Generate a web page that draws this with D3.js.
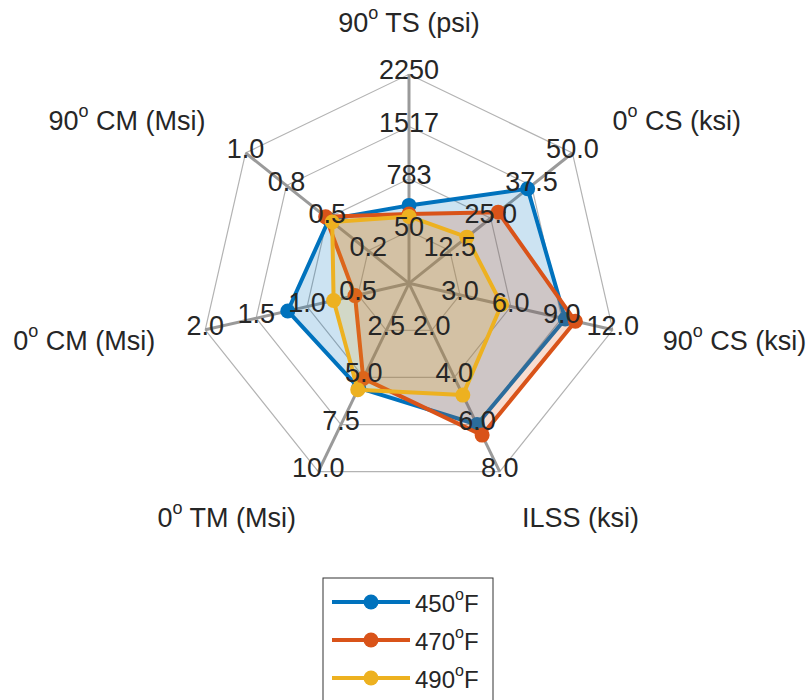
<!DOCTYPE html>
<html>
<head>
<meta charset="utf-8">
<script src="https://cdn.jsdelivr.net/npm/d3@7/dist/d3.min.js"></script>
<style>
  html, body { margin: 0; padding: 0; background: #fff; }
  svg text { font-family: "Liberation Sans", Arial, Helvetica, sans-serif; fill: #262626; }
</style>
</head>
<body>
<svg id="chart" width="809" height="700"></svg>
<script>
// Axis titles ("^o" marks a raised degree symbol)
const axisNames = ["90^o TS (psi)", "0^o CS (ksi)", "90^o CS (ksi)", "ILSS (ksi)",
                   "0^o TM (Msi)", "0^o CM (Msi)", "90^o CM (Msi)"];
// Axis limits (lowest and highest labelled ring)
const axisMin = [50, 12.5, 3, 2, 2.5, 0.5, 0.25];
const axisMax = [2250, 50, 12, 8, 10, 2, 1];
// Ring labels per axis, innermost to outermost
const tickLabels = [
  ["50", "783", "1517", "2250"],
  ["12.5", "25.0", "37.5", "50.0"],
  ["3.0", "6.0", "9.0", "12.0"],
  ["2.0", "4.0", "6.0", "8.0"],
  ["2.5", "5.0", "7.5", "10.0"],
  ["0.5", "1.0", "1.5", "2.0"],
  ["0.2", "0.5", "0.8", "1.0"]
];
// Cure temperature series
const seriesNames = ["450^oF", "470^oF", "490^oF"];
const values450 = [410, 36.3, 9.2, 6.0, 5.55, 1.19, 0.49];
const values470 = [290, 27.3, 9.8, 6.45, 5.05, 0.53, 0.51];
const values490 = [255, 17.7, 5.45, 4.75, 5.65, 0.74, 0.47];
const seriesColors = ["#0072BD", "#D95319", "#EDB120"];

const series = [values450, values470, values490];
const nAxes = axisNames.length;
const nRings = 4;

const svg = d3.select("#chart");
const cx = 409, cy = 283.3, R = 209;

// Angle of each spoke, clockwise from the top
const angle = d3.scaleLinear().domain([0, nAxes]).range([0, 2 * Math.PI]);
// One radial scale per axis; the centre sits one ring-step below the minimum
const radial = axisMin.map((mn, i) => {
  const step = (axisMax[i] - mn) / (nRings - 1);
  return d3.scaleLinear().domain([mn - step, axisMax[i]]).range([0, R]);
});
const ringScale = d3.scaleLinear().domain([0, nRings]).range([0, R]);

function pt(i, r) {
  const a = angle(i);
  return [cx + r * Math.sin(a), cy - r * Math.cos(a)];
}

// Superscript-aware text writer
function writeLabel(sel, str, supSize) {
  const parts = str.split("^o");
  parts.forEach((p, k) => {
    if (k > 0) {
      sel.append("tspan").attr("baseline-shift", "super").attr("font-size", supSize).text("o");
    }
    if (p.length) sel.append("tspan").text(p);
  });
}

const g = svg.append("g");

// Web rings
for (let k = 1; k <= nRings; k++) {
  const r = ringScale(k);
  const pts = d3.range(nAxes).map(i => pt(i, r));
  g.append("path")
    .attr("d", d3.line()(pts) + "Z")
    .attr("fill", "none")
    .attr("stroke", "#b3b3b3")
    .attr("stroke-width", 1.2);
}

// Spokes
d3.range(nAxes).forEach(i => {
  const [x2, y2] = pt(i, R);
  g.append("line")
    .attr("x1", cx).attr("y1", cy).attr("x2", x2).attr("y2", y2)
    .attr("stroke", "#9a9a9a")
    .attr("stroke-width", 3);
});

// Series: filled polygon, outline and markers
series.forEach((vals, s) => {
  const pts = vals.map((v, i) => pt(i, radial[i](v)));
  const path = d3.line()(pts) + "Z";
  g.append("path")
    .attr("d", path)
    .attr("fill", seriesColors[s])
    .attr("fill-opacity", 0.2)
    .attr("stroke", "none");
  g.append("path")
    .attr("d", path)
    .attr("fill", "none")
    .attr("stroke", seriesColors[s])
    .attr("stroke-width", 4)
    .attr("stroke-linejoin", "round");
  g.selectAll(null).data(pts).enter().append("circle")
    .attr("cx", d => d[0]).attr("cy", d => d[1])
    .attr("r", 7.5)
    .attr("fill", seriesColors[s]);
});

// Ring value labels on every axis
d3.range(nAxes).forEach(i => {
  tickLabels[i].forEach((lab, k) => {
    const [x, y] = pt(i, ringScale(k + 1));
    g.append("text")
      .attr("x", x).attr("y", y - 4)
      .attr("text-anchor", "middle")
      .attr("dominant-baseline", "central")
      .attr("font-size", 27)
      .text(lab);
  });
});

// Axis titles
d3.range(nAxes).forEach(i => {
  const [x, y] = pt(i, R * 1.245);
  const sx = Math.sin(angle(i));
  const anchor = Math.abs(sx) < 0.1 ? "middle" : (sx > 0 ? "start" : "end");
  const t = g.append("text")
    .attr("x", x).attr("y", y)
    .attr("text-anchor", anchor)
    .attr("dominant-baseline", "central")
    .attr("font-size", 27);
  writeLabel(t, axisNames[i], 18);
});

// Legend
const lg = svg.append("g").attr("transform", "translate(323,578)");
lg.append("rect")
  .attr("x", 0).attr("y", 0).attr("width", 170).attr("height", 130)
  .attr("fill", "#fff").attr("stroke", "#333").attr("stroke-width", 1);
seriesNames.forEach((name, s) => {
  const y = 24 + s * 38;
  lg.append("line")
    .attr("x1", 9).attr("x2", 87).attr("y1", y).attr("y2", y)
    .attr("stroke", seriesColors[s]).attr("stroke-width", 4);
  lg.append("circle").attr("cx", 48).attr("cy", y).attr("r", 7.5).attr("fill", seriesColors[s]);
  const t = lg.append("text")
    .attr("x", 92).attr("y", y + 1)
    .attr("dominant-baseline", "central")
    .attr("font-size", 24);
  writeLabel(t, name, 16);
});
</script>
</body>
</html>
